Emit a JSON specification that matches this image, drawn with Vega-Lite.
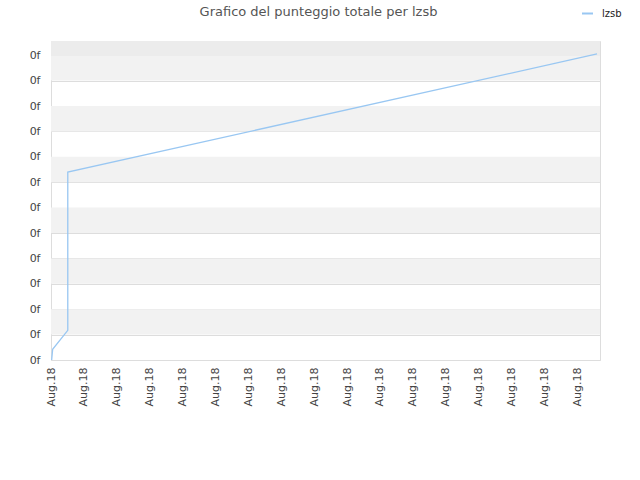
{
  "$schema": "https://vega.github.io/schema/vega-lite/v6.json",
  "autosize": "none",
  "width": 549,
  "height": 319,
  "padding": {"left": 51, "top": 41, "right": 40, "bottom": 120},
  "background": "white",
  "title": {
    "text": "Grafico del punteggio totale per lzsb",
    "font": "DejaVu Sans",
    "fontSize": 13,
    "fontWeight": "normal",
    "color": "#555555",
    "anchor": "middle",
    "dx": -7,
    "offset": -12
  },
  "config": {
    "view": {"stroke": "#dddddd", "strokeWidth": 1},
    "axis": {
      "labelFont": "DejaVu Sans",
      "labelFontSize": 11,
      "labelColor": "#444444",
      "labelOverlap": false,
      "ticks": false,
      "domain": false,
      "title": null
    }
  },
  "datasets": {
    "bande": [
      {"da": 1, "a": 2, "tipo": "chiara"},
      {"da": 3, "a": 4, "tipo": "chiara"},
      {"da": 5, "a": 6, "tipo": "chiara"},
      {"da": 7, "a": 8, "tipo": "chiara"},
      {"da": 9, "a": 10, "tipo": "chiara"},
      {"da": 11, "a": 12, "tipo": "chiara"},
      {"da": 12, "a": 12.56, "tipo": "scura"}
    ],
    "punteggio": [
      {"t": 0.02, "punti": 0, "serie": "lzsb"},
      {"t": 0.05, "punti": 0.42, "serie": "lzsb"},
      {"t": 0.51, "punti": 1.17, "serie": "lzsb"},
      {"t": 0.51, "punti": 7.4, "serie": "lzsb"},
      {"t": 16.6, "punti": 12.05, "serie": "lzsb"}
    ]
  },
  "layer": [
    {
      "data": {"name": "bande"},
      "mark": {"type": "rect"},
      "encoding": {
        "y": {
          "field": "da",
          "type": "quantitative",
          "scale": {"domain": [0, 12.56], "nice": false, "zero": true},
          "axis": {
            "values": [0, 1, 2, 3, 4, 5, 6, 7, 8, 9, 10, 11, 12],
            "labelExpr": "'0f'",
            "grid": true,
            "gridColor": "#dddddd",
            "labelPadding": 11
          }
        },
        "y2": {"field": "a"},
        "color": {
          "field": "tipo",
          "type": "nominal",
          "scale": {"domain": ["chiara", "scura"], "range": ["#f2f2f2", "#ececec"]},
          "legend": null
        }
      }
    },
    {
      "data": {"name": "punteggio"},
      "mark": {"type": "line", "strokeWidth": 1.3, "interpolate": "linear"},
      "encoding": {
        "x": {
          "field": "t",
          "type": "quantitative",
          "scale": {"domain": [0, 16.69], "nice": false, "zero": true},
          "axis": {
            "values": [0, 1, 2, 3, 4, 5, 6, 7, 8, 9, 10, 11, 12, 13, 14, 15, 16],
            "labelExpr": "'Aug.18'",
            "labelAngle": -90,
            "labelPadding": 7,
            "grid": false
          }
        },
        "y": {
          "field": "punti",
          "type": "quantitative",
          "scale": {"domain": [0, 12.56], "nice": false, "zero": true},
          "axis": {
            "values": [0, 1, 2, 3, 4, 5, 6, 7, 8, 9, 10, 11, 12],
            "labelExpr": "'0f'",
            "grid": true,
            "gridColor": "#dddddd",
            "labelPadding": 11
          }
        },
        "order": {"field": "punti", "type": "quantitative"},
        "color": {
          "field": "serie",
          "type": "nominal",
          "scale": {"range": ["#99c7f2"]},
          "legend": {
            "title": null,
            "orient": "none",
            "legendX": 530,
            "legendY": -34,
            "symbolType": "stroke",
            "symbolSize": 121,
            "symbolStrokeWidth": 2,
            "labelOffset": 8,
            "labelFont": "DejaVu Sans",
            "labelFontSize": 10,
            "labelColor": "#222222"
          }
        }
      }
    }
  ],
  "resolve": {"scale": {"color": "independent"}}
}
